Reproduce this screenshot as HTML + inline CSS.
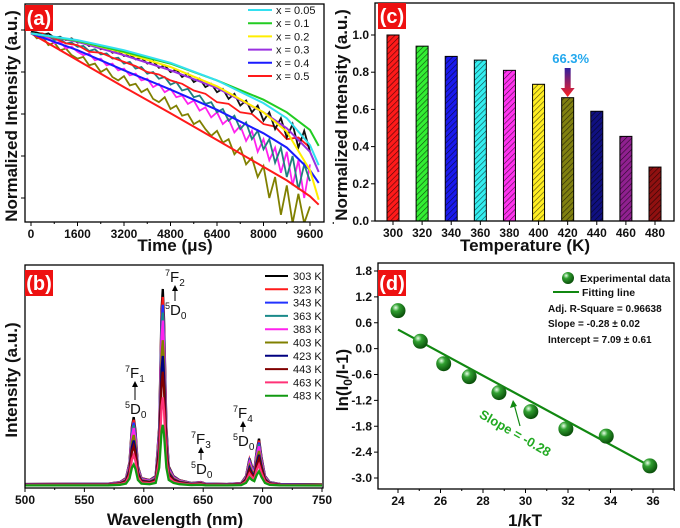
<!DOCTYPE html>
<html><head><meta charset="utf-8"><style>
html,body{margin:0;padding:0;background:#fff}
svg{display:block;font-family:"Liberation Sans",Arial,sans-serif}
.tk{font-size:12px;font-weight:bold;fill:#111}
.ttl{font-size:17px;font-weight:bold;fill:#111}
</style></head><body>
<svg id="fig" width="680" height="528" viewBox="0 0 680 528" xmlns="http://www.w3.org/2000/svg">
<defs>
<pattern id="hatch" patternUnits="userSpaceOnUse" width="4" height="4" patternTransform="rotate(45)"><line x1="0" y1="0" x2="0" y2="4" stroke="#000" stroke-width="1.2" opacity="0.7"/></pattern>
<linearGradient id="arrG" x1="0" y1="0" x2="0" y2="1"><stop offset="0" stop-color="#3020a0"/><stop offset="1" stop-color="#ff2020"/></linearGradient>
<radialGradient id="ball" cx="0.35" cy="0.3" r="0.7"><stop offset="0" stop-color="#e8ffe8"/><stop offset="0.35" stop-color="#30a030"/><stop offset="1" stop-color="#0a500a"/></radialGradient>
</defs>
<g id="pa"></g>
<g id="pb"></g>
<g id="pc"></g>
<g id="pd"></g>
</svg>
<script>
// ---------- Panel (a) data ----------
const decayFitTimes = [0,1600,3200,4800,6400,8000,8800,9600,9900];
const decayLabels = ["x = 0.05","x = 0.1","x = 0.2","x = 0.3","x = 0.4","x = 0.5"];
const fitX005 = [-0.04,-0.12,-0.24,-0.39,-0.60,-0.87,-1.05,-1.37,-1.61];
const fitX01 = [-0.04,-0.13,-0.26,-0.40,-0.60,-0.83,-0.98,-1.19,-1.38];
const fitX02 = [-0.04,-0.13,-0.27,-0.44,-0.67,-0.98,-1.21,-1.67,-2.02];
const fitX03 = [-0.04,-0.14,-0.30,-0.48,-0.69,-0.98,-1.17,-1.45,-1.69];
const fitX04 = [-0.04,-0.24,-0.48,-0.71,-0.95,-1.23,-1.40,-1.67,-1.82];
const fitX05 = [-0.04,-0.36,-0.68,-0.99,-1.31,-1.63,-1.79,-1.98,-2.08];
const rawTimes = [0,200,400,600,800,1000,1200,1400,1600,1800,2000,2200,2400,2600,2800,3000,3200,3400,3600,3800,4000,4200,4400,4600,4800,5000,5200,5400,5600,5800,6000,6200,6400,6600,6800,7000,7200,7400,7600,7800,8000,8200,8400,8600,8800,9000,9200,9400,9600];
const rawOlive = [-0.02,-0.10,-0.08,-0.18,-0.15,-0.24,-0.22,-0.30,-0.34,-0.32,-0.42,-0.40,-0.50,-0.46,-0.56,-0.60,-0.55,-0.66,-0.64,-0.74,-0.70,-0.82,-0.86,-0.80,-0.94,-0.90,-1.02,-1.00,-1.12,-1.08,-1.18,-1.26,-1.20,-1.34,-1.30,-1.48,-1.40,-1.60,-1.52,-1.75,-1.62,-2.00,-1.75,-2.20,-1.85,-2.30,-1.95,-2.30,-2.10];
const rawMagenta = [-0.02,-0.06,-0.10,-0.09,-0.16,-0.14,-0.22,-0.20,-0.26,-0.30,-0.28,-0.36,-0.34,-0.42,-0.40,-0.48,-0.46,-0.54,-0.52,-0.60,-0.58,-0.68,-0.64,-0.74,-0.70,-0.80,-0.78,-0.88,-0.84,-0.96,-0.92,-1.04,-0.98,-1.12,-1.06,-1.22,-1.14,-1.32,-1.20,-1.45,-1.30,-1.55,-1.40,-1.70,-1.45,-1.85,-1.55,-2.00,-1.60];
const rawTeal = [-0.03,-0.05,-0.08,-0.07,-0.12,-0.11,-0.16,-0.15,-0.20,-0.19,-0.25,-0.23,-0.29,-0.28,-0.34,-0.33,-0.40,-0.38,-0.46,-0.44,-0.52,-0.50,-0.58,-0.56,-0.65,-0.62,-0.72,-0.70,-0.80,-0.78,-0.88,-0.86,-0.98,-0.94,-1.08,-1.02,-1.18,-1.10,-1.30,-1.20,-1.42,-1.30,-1.58,-1.40,-1.75,-1.50,-1.90,-1.60,-1.80];
const rawBlack = [-0.02,-0.03,-0.06,-0.04,-0.09,-0.08,-0.12,-0.10,-0.15,-0.14,-0.19,-0.17,-0.23,-0.21,-0.27,-0.25,-0.31,-0.29,-0.35,-0.33,-0.40,-0.37,-0.45,-0.42,-0.50,-0.47,-0.56,-0.52,-0.62,-0.58,-0.68,-0.64,-0.74,-0.70,-0.82,-0.76,-0.90,-0.84,-0.98,-0.90,-1.08,-0.98,-1.18,-1.05,-1.28,-1.12,-1.40,-1.20,-1.45];
const rawRedTimes = [0,400,800,1200,1600,2000,2400,2800,3200,3600,4000,4400,4800,5200,5600,6000,6400,6800,7200,7600,8000,8400,8800,9200,9600];
const rawRed = [-0.03,-0.04,-0.10,-0.16,-0.18,-0.26,-0.27,-0.33,-0.38,-0.43,-0.50,-0.53,-0.60,-0.64,-0.72,-0.76,-0.86,-0.88,-0.98,-1.00,-1.12,-1.15,-1.30,-1.28,-1.40];
const timeTicks = [0,1600,3200,4800,6400,8000,9600];
// ---------- Panel (b) data ----------
const wavelengths = [500,570,580,585,588,590,591.5,593,595,598,605,610,613,615,616,617,619,621,625,630,640,648,652,670,682,686,689,691,693,695,697,699,702,706,715,750];
const intensity303 = [0.01,0.012,0.02,0.04,0.12,0.30,0.35,0.28,0.10,0.04,0.03,0.05,0.30,0.90,1.00,0.85,0.30,0.10,0.05,0.03,0.015,0.02,0.012,0.01,0.015,0.05,0.14,0.10,0.08,0.18,0.24,0.15,0.05,0.02,0.01,0.008];
const tempLabels = ["303 K","323 K","343 K","363 K","383 K","403 K","423 K","443 K","463 K","483 K"];
const tempScale = [1.00,0.96,0.92,0.88,0.84,0.74,0.66,0.58,0.45,0.31];
const wlTicks = [500,550,600,650,700,750];
// ---------- Panel (c) data ----------
const temperatures = [300,320,340,360,380,400,420,440,460,480];
const normIntensity = [1.0,0.94,0.885,0.865,0.81,0.735,0.663,0.59,0.455,0.29];
const intTicks = [0.0,0.2,0.4,0.6,0.8,1.0];
// ---------- Panel (d) data ----------
const invKT = [24.0,25.05,26.15,27.35,28.75,30.25,31.9,33.8,35.85];
const lnRatio = [0.88,0.17,-0.35,-0.65,-1.02,-1.46,-1.86,-2.03,-2.72];
const fitXRange = [24.0,35.85];
const fitSlope = -0.267;
const fitIntercept = 6.85;
const kTTicks = [24,26,28,30,32,34,36];
const lnTicks = [1.8,1.2,0.6,0.0,-0.6,-1.2,-1.8,-2.4,-3.0];

const NS="http://www.w3.org/2000/svg";
function mk(parent,tag,attrs,text){const e=document.createElementNS(NS,tag);for(const k in attrs)e.setAttribute(k,attrs[k]);if(text!==undefined)e.textContent=text;parent.appendChild(e);return e;}
function lin(d0,d1,r0,r1){return v=>r0+(v-d0)/(d1-d0)*(r1-r0);}
function poly(xs,ys,fx,fy){return xs.map((x,i)=>fx(x).toFixed(1)+","+fy(ys[i]).toFixed(1)).join(" ");}
function frame(g,x0,y0,x1,y1){const r=mk(g,"rect",{x:x0,y:y0,width:x1-x0,height:y1-y0,fill:"none",stroke:"#000","stroke-width":1.3});}
function tag(g,x,y,t){const b=mk(g,"g",{});mk(b,"rect",{x:x,y:y,width:28,height:26,fill:"#ee1111"});mk(b,"text",{x:x+14,y:y+20,"text-anchor":"middle","font-size":"20","font-weight":"bold",fill:"#fff"},t);}
function vtitle(g,x,y,t,fs){const e=mk(g,"text",{x:x,y:y,class:"ttl","text-anchor":"middle",transform:`rotate(-90 ${x} ${y})`});if(fs)e.setAttribute("font-size",fs);e.innerHTML=t;return e;}

// ===== Panel A =====
(function(){
const g=document.getElementById("pa");
const fx=lin(0,9600,31,310), fy=v=>30-v*84;
const X0=25,X1=324,Y0=4,Y1=222;
const cp=mk(g,"clipPath",{id:"clipA"});mk(cp,"rect",{x:X0,y:Y0,width:X1-X0,height:Y1-Y0});
const dg=mk(g,"g",{"clip-path":"url(#clipA)"});
const raws=[[rawTimes,rawOlive,"#808000"],[rawTimes,rawMagenta,"#ff22ee"],[rawTimes,rawTeal,"#1f7f7f"],[rawRedTimes,rawRed,"#ff1a1a"],[rawTimes,rawBlack,"#111"]];
raws.forEach(([ts,arr,c])=>{const p=mk(dg,"polyline",{points:poly(ts,arr,fx,fy),fill:"none",stroke:c,"stroke-width":1.8});});
const fits=[fitX05,fitX04,fitX03,fitX02,fitX01,fitX005];
const cols=["#ff1a1a","#1a1aff","#9a30e0","#ffee00","#22cc22","#33e0f0"];
fits.forEach((arr,i)=>{const p=mk(dg,"polyline",{points:poly(decayFitTimes,arr,fx,fy),fill:"none",stroke:cols[i],"stroke-width":2});});
frame(g,X0,Y0,X1,Y1);
timeTicks.forEach(t=>{const x=fx(t);mk(g,"line",{x1:x,y1:Y1,x2:x,y2:Y1+4,stroke:"#000"});const e=mk(g,"text",{x:x,y:Y1+16,class:"tk","text-anchor":"middle"},t);mk(g,"line",{x1:fx(t+800),y1:Y1,x2:fx(t+800),y2:Y1+2,stroke:"#000"});});
[0,-0.5,-1,-1.5,-2].forEach(v=>mk(g,"line",{x1:X0,y1:fy(v),x2:X0-4,y2:fy(v),stroke:"#000"}));
const xt=mk(g,"text",{x:175,y:251,class:"ttl","text-anchor":"middle","font-size":"19"});xt.innerHTML='Time (<tspan>μ</tspan>s)';
vtitle(g,17,116,"Normalized Intensity (a.u.)","19");
const lc=["#33e0f0","#22cc22","#ffee00","#9a30e0","#1a1aff","#ff1a1a"];
decayLabels.forEach((l,i)=>{const y=10+i*13.2;const le=mk(g,"g",{});mk(le,"line",{x1:248,y1:y,x2:272,y2:y,stroke:lc[i],"stroke-width":2});mk(le,"text",{x:276,y:y+4,"font-size":"11",fill:"#111"},l);});
tag(g,25,5,"(a)");
})();

// ===== Panel B =====
(function(){
const g=document.getElementById("pb");
const X0=25,X1=323,Y0=265,Y1=488;
const fx=lin(500,750,25,322), fy=v=>486-v*197;
const cols=["#000","#ff1a1a","#2233ff","#1a8a8a","#ff22ee","#808000","#000080","#800000","#ff3377","#119911"];
tempScale.forEach((s,i)=>{const ys=intensity303.map(v=>v*s);const p=mk(g,"polyline",{points:poly(wavelengths,ys,fx,fy),fill:"none",stroke:cols[i],"stroke-width":2.3});});
frame(g,X0,Y0,X1,Y1);
wlTicks.forEach(w=>{const x=fx(w);mk(g,"line",{x1:x,y1:Y1,x2:x,y2:Y1+4,stroke:"#000"});if(w<750)mk(g,"line",{x1:fx(w+25),y1:Y1,x2:fx(w+25),y2:Y1+2,stroke:"#000"});const e=mk(g,"text",{x:x,y:Y1+16,class:"tk","text-anchor":"middle"},w);});
const xt=mk(g,"text",{x:175,y:525,class:"ttl","text-anchor":"middle","font-size":"19"},"Wavelength (nm)");
vtitle(g,17,380,"Intensity (a.u.)","19");
tempLabels.forEach((l,i)=>{const y=276+i*13.3;const le=mk(g,"g",{});mk(le,"line",{x1:265,y1:y,x2:288,y2:y,stroke:cols[i],"stroke-width":2});mk(le,"text",{x:293,y:y+4,"font-size":"11",fill:"#111"},l);});
function trans(x,yTop,upper,ySub){const a=mk(g,"g",{});
 const t1=mk(a,"text",{x:x-10,y:yTop,"font-size":"15",fill:"#111"});t1.innerHTML='<tspan font-size="9" dy="-6">7</tspan><tspan dy="6">F</tspan><tspan font-size="10" dy="4">'+upper+'</tspan>';
 mk(a,"line",{x1:x,y1:ySub-14,x2:x,y2:yTop+6,stroke:"#000","stroke-width":1});mk(a,"path",{d:`M${x-3} ${yTop+9} L${x} ${yTop+3} L${x+3} ${yTop+9}Z`,fill:"#000"});
 const t2=mk(a,"text",{x:x-10,y:ySub,"font-size":"15",fill:"#111"});t2.innerHTML='<tspan font-size="9" dy="-6">5</tspan><tspan dy="6">D</tspan><tspan font-size="10" dy="4">0</tspan>';}
trans(175,282,"2",315);trans(135,378,"1",414);trans(201,444,"3",474);trans(243,418,"4",446);
tag(g,25,270,"(b)");
})();

// ===== Panel C =====
(function(){
const g=document.getElementById("pc");
const X0=375,X1=674,Y0=3,Y1=221;
const fx=lin(300,480,393,655), fy=lin(0,1,221,35);
const cols=["#ff1a1a","#33ee33","#1a1aee","#33eef0","#ff33ee","#ffee22","#808010","#101080","#902090","#901010"];
temperatures.forEach((t,i)=>{const x=fx(t)-6,y=fy(normIntensity[i]);const b=mk(g,"g",{});mk(b,"rect",{x:x,y:y,width:12,height:Y1-y,fill:cols[i],stroke:"#000","stroke-width":1});mk(b,"rect",{x:x,y:y,width:12,height:Y1-y,fill:"url(#hatch)"});});
frame(g,X0,Y0,X1,Y1);
temperatures.forEach(t=>{const x=fx(t);mk(g,"line",{x1:x,y1:Y1,x2:x,y2:Y1+4,stroke:"#000"});const e=mk(g,"text",{x:x,y:Y1+16,class:"tk","text-anchor":"middle"},t);});
intTicks.forEach(v=>{const y=fy(v);mk(g,"line",{x1:X0,y1:y,x2:X0-4,y2:y,stroke:"#000"});const e=mk(g,"text",{x:X0-6,y:y+4,class:"tk","text-anchor":"end"},v.toFixed(1));});
const xt=mk(g,"text",{x:525,y:251,class:"ttl","text-anchor":"middle","font-size":"19"},"Temperature (K)");
vtitle(g,347,115,"Normalized Intensity (a.u.)","19");
const ax=fx(420);const ar=mk(g,"path",{d:`M${ax-3} 68 L${ax+3} 68 L${ax+3} 88 L${ax+7} 88 L${ax} 97 L${ax-7} 88 L${ax-3} 88Z`,fill:"url(#arrG)"});
const pl=mk(g,"text",{x:ax+3,y:63,"font-size":"13","font-weight":"bold",fill:"#22a8ee","text-anchor":"middle"},"66.3%");
tag(g,378,3,"(c)");
})();

// ===== Panel D =====
(function(){
const g=document.getElementById("pd");
const X0=378,X1=674,Y0=263,Y1=489;
const fx=lin(24,36,398,653), fy=lin(1.8,-3.0,271,478);
const fl=mk(g,"line",{x1:fx(fitXRange[0]),y1:fy(fitIntercept+fitSlope*fitXRange[0]),x2:fx(fitXRange[1]),y2:fy(fitIntercept+fitSlope*fitXRange[1]),stroke:"#118811","stroke-width":2.2});
invKT.forEach((x,i)=>{const c=mk(g,"circle",{cx:fx(x),cy:fy(lnRatio[i]),r:7.5,fill:"url(#ball)"});});
frame(g,X0,Y0,X1,Y1);
kTTicks.forEach(v=>{const x=fx(v);mk(g,"line",{x1:x,y1:Y1,x2:x,y2:Y1+4,stroke:"#000"});mk(g,"line",{x1:fx(v+1),y1:Y1,x2:fx(v+1),y2:Y1+2,stroke:"#000"});const e=mk(g,"text",{x:x,y:Y1+16,class:"tk","text-anchor":"middle"},v);});
lnTicks.forEach(v=>{const y=fy(v);mk(g,"line",{x1:X0,y1:y,x2:X0-4,y2:y,stroke:"#000"});const e=mk(g,"text",{x:X0-6,y:y+4,class:"tk","text-anchor":"end"},v.toFixed(1));});
const xt=mk(g,"text",{x:525,y:526,class:"ttl","text-anchor":"middle","font-size":"19"},"1/kT");
vtitle(g,348,380,'ln(I<tspan font-size="12" dy="4">0</tspan><tspan dy="-4">/I-1)</tspan>',"19");
const lg=mk(g,"g",{});
mk(lg,"circle",{cx:568,cy:278,r:6,fill:"url(#ball)"});mk(lg,"text",{x:580,y:282,"font-size":"10.5","font-weight":"bold",fill:"#111"},"Experimental data");
mk(lg,"line",{x1:553,y1:292,x2:579,y2:292,stroke:"#118811","stroke-width":2});mk(lg,"text",{x:582,y:296,"font-size":"10.5","font-weight":"bold",fill:"#111"},"Fitting line");
const st=mk(g,"g",{"font-size":"10","font-weight":"bold",fill:"#111"});
mk(st,"text",{x:548,y:312},"Adj. R-Square = 0.96638");mk(st,"text",{x:548,y:327},"Slope = -0.28 ± 0.02");mk(st,"text",{x:548,y:343},"Intercept = 7.09 ± 0.61");
const sa=mk(g,"line",{x1:520,y1:426,x2:514,y2:404,stroke:"#118811","stroke-width":1.2});
mk(g,"path",{d:"M510 408 L513 400 L517 406Z",fill:"#118811"});
const sl=mk(g,"text",{x:513,y:437,"font-size":"13","font-weight":"bold",fill:"#22aa22","text-anchor":"middle",transform:"rotate(30 513 437)"},"Slope = -0.28");
tag(g,378,270,"(d)");
})();
</script>
</body></html>
